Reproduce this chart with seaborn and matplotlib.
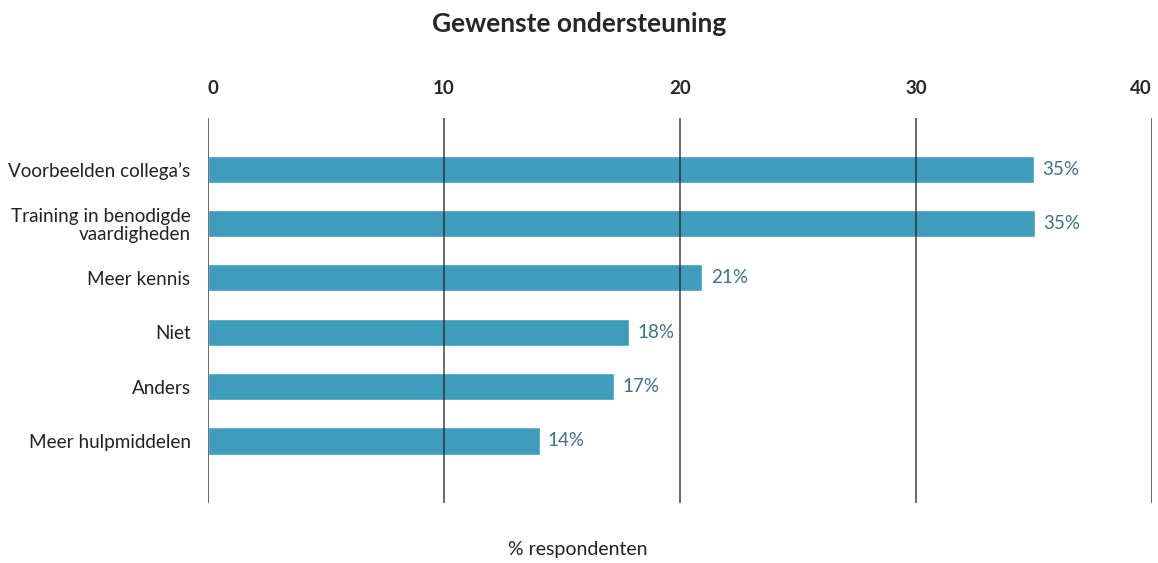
import pandas as pd
import matplotlib.pyplot as plt
import seaborn as sns

categories = ["Voorbeelden collega\u2019s", "Training in benodigde\nvaardigheden", "Meer kennis",
              "Niet", "Anders", "Meer hulpmiddelen"]
values = [35.0, 35.05, 20.95, 17.85, 17.2, 14.05]
labels = ["35%", "35%", "21%", "18%", "17%", "14%"]
xticks = [0, 10, 20, 30, 40]

df = pd.DataFrame({"categorie": categories, "pct": values})

sns.set_style("white")
plt.rcParams["font.family"] = ["Lato", "DejaVu Sans"]

fig = plt.figure(figsize=(11.58, 5.63), dpi=100)
ax = fig.add_axes([0.1796, 0.1066, 0.8152, 0.6838])

sns.barplot(data=df, x="pct", y="categorie", color="#3f9cbd", saturation=1,
            width=0.5, ax=ax, zorder=2)

ax.set_xlim(0, 40)
ax.set_ylim(6.14, -0.94)
ax.set_xticks(xticks)
ax.xaxis.tick_top()
ax.tick_params(axis="x", length=0, pad=15, labelsize=13.5)
xt = ax.get_xticklabels()
for t in xt:
    t.set_fontweight("bold")
xt[0].set_ha("left")
xt[-1].set_ha("right")
ax.tick_params(axis="y", length=0, pad=12.5, labelsize=13.6, labelcolor="#222222")
for t in ax.get_yticklabels():
    t.set_linespacing(1.05)
ax.set_xlabel("")
ax.set_ylabel("")
for s in ax.spines.values():
    s.set_visible(False)
for x in xticks:
    ax.axvline(x, color="#222222", lw=1.1, alpha=0.85, zorder=3)

for i, (v, lab) in enumerate(zip(values, labels)):
    ax.text(v + 0.35, i, lab, va="center", ha="left", fontsize=13.5, color="#3d7184")

fig.suptitle("Gewenste ondersteuning", x=0.5, y=0.978, fontsize=19, fontweight="bold")
fig.text(0.499, 0.008, "% respondenten", ha="center", va="bottom", fontsize=14, color="#222222")

fig.savefig("out.png", dpi=100)
